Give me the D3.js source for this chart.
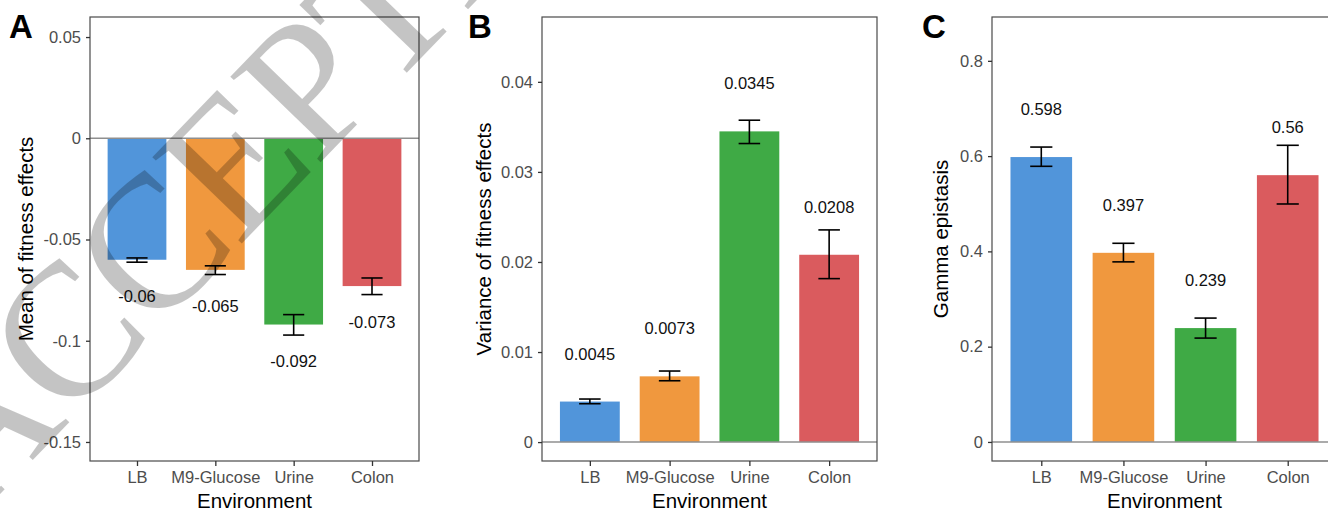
<!DOCTYPE html>
<html>
<head>
<meta charset="utf-8">
<script src="https://cdn.jsdelivr.net/npm/d3@7"></script>
<style>
  html, body { margin: 0; padding: 0; background: #fff; overflow: hidden; }
  svg { display: block; font-family: "Liberation Sans", Arial, sans-serif; }
</style>
</head>
<body>
<svg width="1328" height="513"></svg>
<script>
// data
const environments = ['LB', 'M9-Glucose', 'Urine', 'Colon'];
const barColors = ['#5195DA', '#F0983E', '#3FAA45', '#DA5B5E'];

const meanValues = [-0.06, -0.065, -0.092, -0.073];
const meanLow = [-0.0612, -0.0673, -0.0972, -0.0772];
const meanHigh = [-0.0591, -0.0630, -0.0871, -0.0690];
const meanLabels = ['-0.06', '-0.065', '-0.092', '-0.073'];
const meanTicks = [0.05, 0, -0.05, -0.1, -0.15];

const varValues = [0.0045, 0.0073, 0.0345, 0.0208];
const varLow = [0.00426, 0.00681, 0.03315, 0.01815];
const varHigh = [0.00478, 0.00789, 0.03574, 0.02356];
const varLabels = ['0.0045', '0.0073', '0.0345', '0.0208'];
const varTicks = [0, 0.01, 0.02, 0.03, 0.04];

const gammaValues = [0.598, 0.397, 0.239, 0.56];
const gammaLow = [0.5786, 0.378, 0.218, 0.4995];
const gammaHigh = [0.619, 0.417, 0.260, 0.6227];
const gammaLabels = ['0.598', '0.397', '0.239', '0.56'];
const gammaTicks = [0, 0.2, 0.4, 0.6, 0.8];

const svg = d3.select('svg');
const plotTop = 17, plotBottom = 461;

const panels = [
  { letter: 'A', left: 90, right: 419, letterX: 9, titleX: 26,
    title: 'Mean of fitness effects', domain: [-0.1594, 0.0599],
    values: meanValues, low: meanLow, high: meanHigh, labels: meanLabels,
    ticks: meanTicks, labelShift: -0.018 },
  { letter: 'B', left: 542, right: 877, letterX: 468, titleX: 484,
    title: 'Variance of fitness effects', domain: [-0.0021, 0.0472],
    values: varValues, low: varLow, high: varHigh, labels: varLabels,
    ticks: varTicks, labelShift: 0.0053 },
  { letter: 'C', left: 992, right: 1337, letterX: 922, titleX: 941,
    title: 'Gamma epistasis', domain: [-0.04, 0.892],
    values: gammaValues, low: gammaLow, high: gammaHigh, labels: gammaLabels,
    ticks: gammaTicks, labelShift: 0.1 }
];

panels.forEach(p => {
  const g = svg.append('g');
  const x = d3.scalePoint().domain(environments).range([p.left, p.right]).padding(0.6);
  const y = d3.scaleLinear().domain(p.domain).range([plotBottom, plotTop]);
  const bw = x.step() * 0.75;
  const ew = x.step() * 0.27;

  const rows = environments.map((e, i) => ({
    env: e, v: p.values[i], lo: p.low[i], hi: p.high[i], lab: p.labels[i], col: barColors[i]
  }));

  // bars
  g.selectAll('rect.bar').data(rows).enter().append('rect')
    .attr('class', 'bar')
    .attr('x', d => x(d.env) - bw / 2)
    .attr('width', bw)
    .attr('y', d => Math.min(y(d.v), y(0)))
    .attr('height', d => Math.abs(y(d.v) - y(0)))
    .attr('fill', d => d.col);

  // zero line
  g.append('line')
    .attr('x1', p.left).attr('x2', p.right)
    .attr('y1', y(0)).attr('y2', y(0))
    .attr('stroke', '#8f8f8f').attr('stroke-width', 1.5);

  // error bars
  const eb = g.selectAll('g.err').data(rows).enter().append('g')
    .attr('stroke', '#000').attr('stroke-width', 1.6).attr('fill', 'none');
  eb.append('line')
    .attr('x1', d => x(d.env)).attr('x2', d => x(d.env))
    .attr('y1', d => y(d.lo)).attr('y2', d => y(d.hi));
  eb.append('line')
    .attr('x1', d => x(d.env) - ew / 2).attr('x2', d => x(d.env) + ew / 2)
    .attr('y1', d => y(d.lo)).attr('y2', d => y(d.lo));
  eb.append('line')
    .attr('x1', d => x(d.env) - ew / 2).attr('x2', d => x(d.env) + ew / 2)
    .attr('y1', d => y(d.hi)).attr('y2', d => y(d.hi));

  // value labels
  g.selectAll('text.val').data(rows).enter().append('text')
    .attr('x', d => x(d.env))
    .attr('y', d => y(d.v + p.labelShift))
    .attr('dy', '0.35em')
    .attr('text-anchor', 'middle')
    .attr('font-size', 16.5)
    .attr('fill', '#111')
    .text(d => d.lab);

  // panel border
  g.append('rect')
    .attr('x', p.left).attr('y', plotTop)
    .attr('width', p.right - p.left).attr('height', plotBottom - plotTop)
    .attr('fill', 'none').attr('stroke', '#4a4a4a').attr('stroke-width', 1.2);

  // axes
  const yAxis = g.append('g')
    .attr('transform', `translate(${p.left},0)`)
    .call(d3.axisLeft(y).tickValues(p.ticks).tickFormat(d => String(d)).tickSize(4).tickPadding(5));
  const xAxis = g.append('g')
    .attr('transform', `translate(0,${plotBottom})`)
    .call(d3.axisBottom(x).tickSize(5).tickPadding(5));
  [yAxis, xAxis].forEach(a => {
    a.select('.domain').remove();
    a.selectAll('line').attr('stroke', '#333').attr('stroke-width', 1.3);
    a.selectAll('text').attr('fill', '#4d4d4d').attr('font-size', 16.5)
      .attr('font-family', '"Liberation Sans", Arial, sans-serif');
  });

  // titles
  g.append('text')
    .attr('x', (p.left + p.right) / 2)
    .attr('y', 508)
    .attr('text-anchor', 'middle')
    .attr('font-size', 20.5)
    .attr('fill', '#000')
    .text('Environment');
  g.append('text')
    .attr('transform', `translate(${p.titleX},${(plotTop + plotBottom) / 2}) rotate(-90)`)
    .attr('dy', '0.35em')
    .attr('text-anchor', 'middle')
    .attr('font-size', 20.5)
    .attr('fill', '#000')
    .text(p.title);
  g.append('text')
    .attr('x', p.letterX).attr('y', 38)
    .attr('font-size', 33).attr('font-weight', 'bold')
    .attr('fill', '#000')
    .text(p.letter);
});

// "ACCEPTED" watermark over panel A
svg.append('text')
  .attr('transform', 'translate(-25,520) rotate(-46)')
  .attr('font-family', '"Liberation Serif", "Times New Roman", serif')
  .attr('font-size', 190)
  .attr('letter-spacing', -4)
  .attr('fill', '#000')
  .attr('fill-opacity', 0.23)
  .text('ACCEPTED');
</script>
</body>
</html>
